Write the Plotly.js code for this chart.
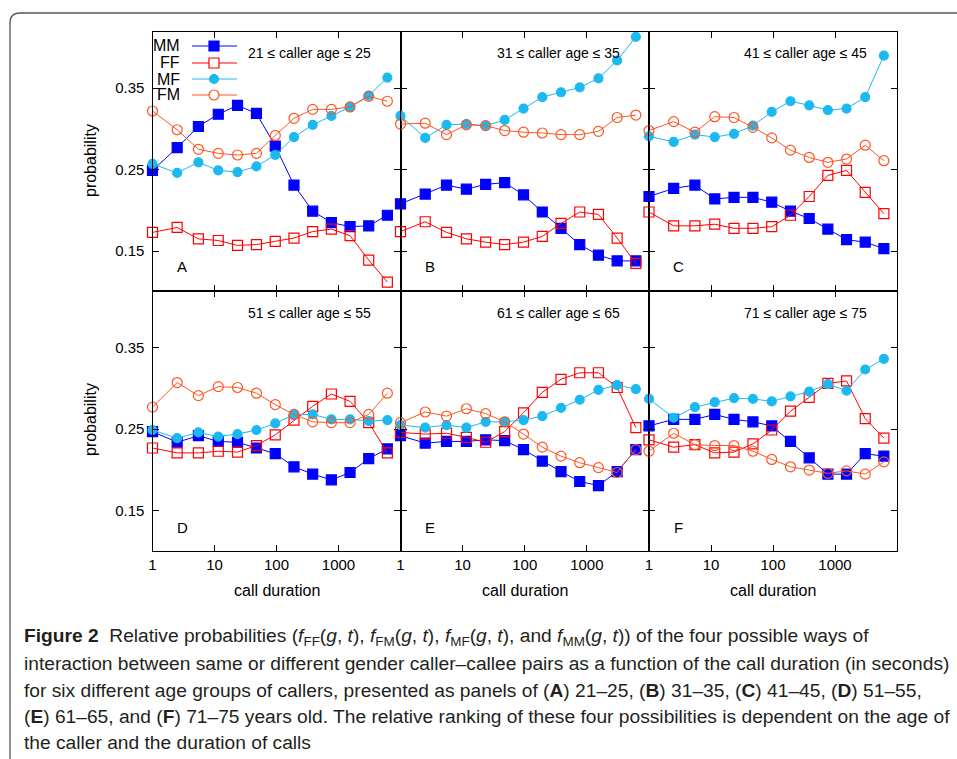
<!DOCTYPE html>
<html><head><meta charset="utf-8">
<script src="https://cdn.plot.ly/plotly-3.0.1.min.js"></script>
<style>html,body{margin:0;padding:0;background:#fff}#chart{width:957px;height:759px}</style>
</head><body><div id="chart"></div>
<script>
// call duration bin centres (seconds)
const duration = [1, 2.5, 5.5, 11.5, 23.5, 47.5, 95.5, 191.5, 383.5, 767.5, 1535.5, 3071.5, 6143.5];
const panelLetters = ['A', 'B', 'C', 'D', 'E', 'F'];
const ageLabels = ['21 ≤ caller age ≤ 25', '31 ≤ caller age ≤ 35', '41 ≤ caller age ≤ 45',
                   '51 ≤ caller age ≤ 55', '61 ≤ caller age ≤ 65', '71 ≤ caller age ≤ 75'];
const seriesNames = ['MM', 'FF', 'MF', 'FM'];
const xTickVals = [1, 10, 100, 1000];
const xTickText = ['1', '10', '100', '1000'];
const yTickVals = [0.15, 0.25, 0.35];
const yTickText = ['0.15', '0.25', '0.35'];

// Panel A: 21-25
const mmA = [0.249, 0.277, 0.303, 0.318, 0.329, 0.319, 0.279, 0.231, 0.199, 0.185, 0.180, 0.181, 0.194];
const ffA = [0.173, 0.179, 0.165, 0.163, 0.157, 0.158, 0.162, 0.166, 0.174, 0.177, 0.169, 0.139, 0.112];
const mfA = [0.257, 0.246, 0.259, 0.249, 0.247, 0.254, 0.268, 0.290, 0.305, 0.316, 0.327, 0.341, 0.363];
const fmA = [0.322, 0.299, 0.275, 0.270, 0.268, 0.270, 0.292, 0.313, 0.324, 0.324, 0.327, 0.340, 0.334];
// Panel B: 31-35
const mmB = [0.208, 0.220, 0.231, 0.226, 0.232, 0.234, 0.219, 0.198, 0.178, 0.158, 0.145, 0.138, 0.138];
const ffB = [0.174, 0.186, 0.173, 0.165, 0.161, 0.158, 0.161, 0.168, 0.184, 0.198, 0.195, 0.166, 0.135];
const mfB = [0.316, 0.289, 0.305, 0.306, 0.304, 0.311, 0.325, 0.339, 0.345, 0.351, 0.362, 0.384, 0.413];
const fmB = [0.306, 0.307, 0.293, 0.305, 0.304, 0.298, 0.296, 0.295, 0.293, 0.293, 0.297, 0.314, 0.317];
// Panel C: 41-45
const mmC = [0.217, 0.227, 0.231, 0.214, 0.216, 0.216, 0.210, 0.199, 0.190, 0.177, 0.164, 0.161, 0.153];
const ffC = [0.198, 0.181, 0.181, 0.183, 0.178, 0.178, 0.180, 0.194, 0.217, 0.243, 0.249, 0.222, 0.196];
const mfC = [0.291, 0.284, 0.293, 0.290, 0.294, 0.304, 0.321, 0.334, 0.329, 0.323, 0.325, 0.339, 0.390];
const fmC = [0.298, 0.309, 0.296, 0.315, 0.314, 0.302, 0.289, 0.274, 0.265, 0.259, 0.263, 0.280, 0.261];
// Panel D: 51-55
const mmD = [0.247, 0.234, 0.242, 0.235, 0.234, 0.227, 0.220, 0.204, 0.195, 0.188, 0.197, 0.214, 0.226];
const ffD = [0.227, 0.221, 0.221, 0.223, 0.222, 0.230, 0.243, 0.261, 0.278, 0.293, 0.284, 0.258, 0.221];
const mfD = [0.249, 0.239, 0.246, 0.241, 0.244, 0.249, 0.257, 0.268, 0.268, 0.262, 0.262, 0.260, 0.261];
const fmD = [0.277, 0.307, 0.291, 0.302, 0.301, 0.294, 0.280, 0.268, 0.259, 0.258, 0.258, 0.268, 0.294];
// Panel E: 61-65
const mmE = [0.242, 0.233, 0.235, 0.235, 0.237, 0.236, 0.225, 0.211, 0.198, 0.186, 0.181, 0.198, 0.225];
const ffE = [0.246, 0.244, 0.245, 0.240, 0.234, 0.247, 0.270, 0.295, 0.311, 0.319, 0.319, 0.301, 0.252];
const mfE = [0.255, 0.252, 0.255, 0.252, 0.259, 0.259, 0.261, 0.266, 0.276, 0.286, 0.298, 0.304, 0.299];
const fmE = [0.258, 0.271, 0.266, 0.275, 0.269, 0.259, 0.244, 0.228, 0.217, 0.209, 0.203, 0.197, 0.225];
// Panel F: 71-75
const mmF = [0.254, 0.262, 0.262, 0.268, 0.262, 0.259, 0.254, 0.235, 0.215, 0.195, 0.195, 0.220, 0.217];
const ffF = [0.237, 0.228, 0.231, 0.221, 0.222, 0.232, 0.249, 0.272, 0.289, 0.306, 0.309, 0.263, 0.239];
const mfF = [0.287, 0.264, 0.277, 0.283, 0.288, 0.287, 0.284, 0.290, 0.296, 0.305, 0.297, 0.323, 0.336];
const fmF = [0.223, 0.245, 0.231, 0.230, 0.230, 0.223, 0.213, 0.204, 0.200, 0.196, 0.199, 0.195, 0.210];

const panelData = [
  [mmA, ffA, mfA, fmA], [mmB, ffB, mfB, fmB], [mmC, ffC, mfC, fmC],
  [mmD, ffD, mfD, fmD], [mmE, ffE, mfE, fmE], [mmF, ffF, mfF, fmF]
];

const W = 957, H = 759;
const px = v => v / W;
const py = v => 1 - v / H;

const styles = {
  MM: {color: '#0000ff', symbol: 'square', size: 10, lw: 1},
  FF: {color: '#ff0000', symbol: 'square-open', size: 10, lw: 1},
  MF: {color: '#1cb9f0', symbol: 'circle', size: 9, lw: 1},
  FM: {color: '#ff5522', symbol: 'circle-open', size: 10, lw: 1}
};

const colPx = [[152.5, 400.5], [400.5, 649], [649, 897]];
const rowPx = [[32, 291], [291, 551]];
const FONT = 'Liberation Sans, Arial, sans-serif';

const traces = [];
const layout = {
  width: W, height: H,
  margin: {l: 0, r: 0, t: 0, b: 0},
  paper_bgcolor: '#fff', plot_bgcolor: 'rgba(0,0,0,0)',
  showlegend: false,
  font: {family: FONT, color: '#000'},
  annotations: [], shapes: []
};

for (let p = 0; p < 6; p++) {
  const row = Math.floor(p / 3), col = p % 3;
  const n = p === 0 ? '' : String(p + 1);
  const xa = 'x' + n, ya = 'y' + n;
  layout['xaxis' + n] = {
    type: 'log', range: [0, 4],
    domain: [px(colPx[col][0]), px(colPx[col][1])],
    anchor: ya,
    showline: true, linecolor: '#000', linewidth: 1.3, mirror: 'ticks',
    ticks: 'inside', ticklen: 6, tickwidth: 1, tickcolor: '#000',
    tickvals: xTickVals, ticktext: xTickText,
    showticklabels: row === 1, tickfont: {size: 15, family: FONT},
    showgrid: false, zeroline: false, fixedrange: true
  };
  layout['yaxis' + n] = {
    range: [0.101, 0.419],
    domain: [py(rowPx[row][1]), py(rowPx[row][0])],
    anchor: xa,
    showline: true, linecolor: '#000', linewidth: 1.3, mirror: 'ticks',
    ticks: 'inside', ticklen: 6, tickwidth: 1, tickcolor: '#000',
    tickvals: yTickVals, ticktext: yTickText,
    showticklabels: col === 0, tickfont: {size: 15, family: FONT},
    ticklabelstandoff: 4,
    showgrid: false, zeroline: false, fixedrange: true
  };
  seriesNames.forEach((name, k) => {
    const s = styles[name];
    traces.push({
      type: 'scatter', mode: 'lines+markers', name: name,
      x: duration, y: panelData[p][k], xaxis: xa, yaxis: ya,
      cliponaxis: false,
      line: {color: s.color, width: s.lw},
      marker: {symbol: s.symbol, size: s.size, color: s.color, line: {color: s.color, width: 1.2}},
      hoverinfo: 'x+y+name'
    });
  });
  // age range label
  const ageRight = [373, 622, 869][col];
  const ageY = row === 0 ? 53 : 313;
  layout.annotations.push({
    xref: 'paper', yref: 'paper', x: px(ageRight), y: py(ageY),
    xanchor: 'right', yanchor: 'middle', showarrow: false,
    text: ageLabels[p], font: {size: 14, family: FONT, color: '#000'}
  });
  // panel letter
  const letterX = [182, 430, 678][col];
  const letterY = row === 0 ? 266 : 527;
  layout.annotations.push({
    xref: 'paper', yref: 'paper', x: px(letterX), y: py(letterY),
    xanchor: 'center', yanchor: 'middle', showarrow: false,
    text: panelLetters[p], font: {size: 15, family: FONT, color: '#000'}
  });
}

// axis titles
[161, 420].forEach(yc => layout.annotations.push({
  xref: 'paper', yref: 'paper', x: px(90), y: py(yc), textangle: -90,
  xanchor: 'center', yanchor: 'middle', showarrow: false,
  text: 'probability', font: {size: 16, family: FONT, color: '#000'}
}));
colPx.forEach(c => layout.annotations.push({
  xref: 'paper', yref: 'paper', x: px((c[0] + c[1]) / 2), y: py(590),
  xanchor: 'center', yanchor: 'middle', showarrow: false,
  text: 'call duration', font: {size: 16, family: FONT, color: '#000'}
}));

// custom legend inside panel A (label left of sample)
const legendRows = [46, 63, 79, 95];
seriesNames.forEach((name, k) => {
  const s = styles[name];
  const yc = legendRows[k];
  layout.annotations.push({
    xref: 'paper', yref: 'paper', x: px(182), y: py(yc),
    xanchor: 'right', yanchor: 'middle', showarrow: false,
    text: name, font: {size: 16, family: FONT, color: '#000'}
  });
  layout.shapes.push({
    type: 'line', xref: 'paper', yref: 'paper',
    x0: px(192), x1: px(237), y0: py(yc), y1: py(yc),
    line: {color: s.color, width: 1}
  });
  const half = s.size / 2;
  const isCircle = s.symbol.indexOf('circle') === 0;
  const open = s.symbol.indexOf('open') > 0;
  layout.shapes.push({
    type: isCircle ? 'circle' : 'rect', xref: 'paper', yref: 'paper',
    x0: px(214 - half), x1: px(214 + half), y0: py(yc - half), y1: py(yc + half),
    line: {color: s.color, width: 1.2},
    fillcolor: open ? '#ffffff' : s.color
  });
});

// caption frame (rounded top-left corner)
const fx = px(10), fy = py(13), r = 10;
layout.shapes.push({
  type: 'path', xref: 'paper', yref: 'paper',
  path: `M ${fx} ${py(759)} L ${fx} ${py(13 + r)} Q ${fx} ${fy} ${px(10 + r)} ${fy} L ${px(957)} ${fy}`,
  line: {color: '#555', width: 1.3}
});

// caption
const CAP_FONT = 'Liberation Sans, Arial, sans-serif';
const captionLines = [
  '<b>Figure 2</b>  Relative probabilities (<i>f</i><sub>FF</sub>(<i>g</i>, <i>t</i>), <i>f</i><sub>FM</sub>(<i>g</i>, <i>t</i>), <i>f</i><sub>MF</sub>(<i>g</i>, <i>t</i>), and <i>f</i><sub>MM</sub>(<i>g</i>, <i>t</i>)) of the four possible ways of',
  'interaction between same or different gender caller–callee pairs as a function of the call duration (in seconds)',
  'for six different age groups of callers, presented as panels of (<b>A</b>) 21–25, (<b>B</b>) 31–35, (<b>C</b>) 41–45, (<b>D</b>) 51–55,',
  '(<b>E</b>) 61–65, and (<b>F</b>) 71–75 years old. The relative ranking of these four possibilities is dependent on the age of',
  'the caller and the duration of calls'
];
const captionY = [637, 663, 690, 716, 742];
captionLines.forEach((t, i) => layout.annotations.push({
  xref: 'paper', yref: 'paper', x: px(22), y: py(captionY[i]),
  xanchor: 'left', yanchor: 'middle', showarrow: false, align: 'left',
  text: t, font: {size: 19.2, family: CAP_FONT, color: '#231f20'}
}));

Plotly.newPlot('chart', traces, layout, {displayModeBar: false, responsive: false});
</script>
</body></html>
